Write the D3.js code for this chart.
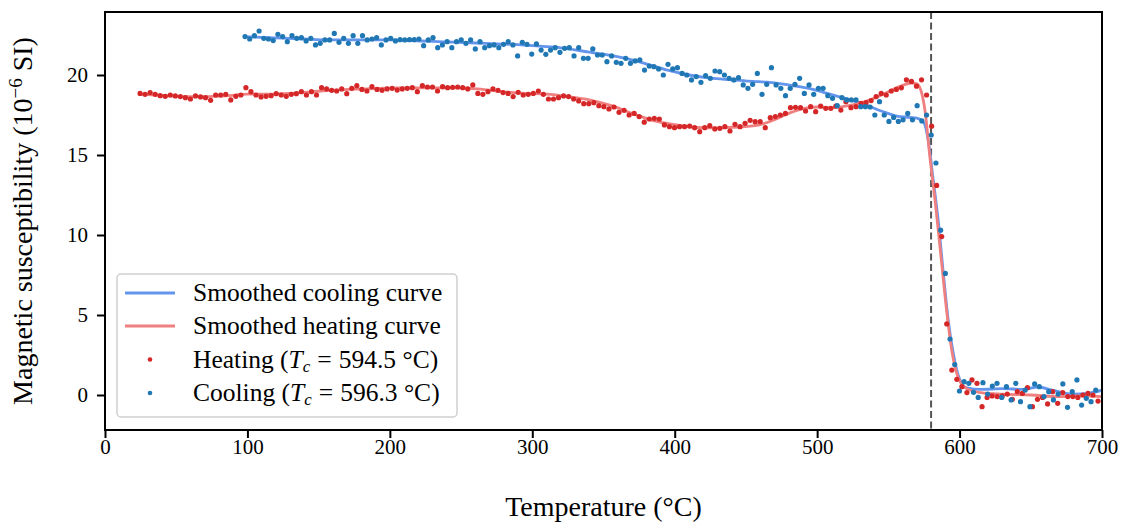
<!DOCTYPE html>
<html><head><meta charset="utf-8">
<script src="https://cdn.jsdelivr.net/npm/d3@7"></script>
<style>body{margin:0;background:#fff}</style>
</head><body><svg id="c" width="1127" height="525"></svg>
<script>
// ---------- data ----------
const heatStart = 24.6, heatStep = 3.54;   // temperature sampling of heating run (°C)
const heatValues = [
18.85,18.79,18.90,18.79,18.71,18.67,18.75,18.69,18.65,18.58,
18.50,18.69,18.63,18.58,18.42,18.75,18.75,18.79,18.44,18.67,
18.75,19.21,18.96,18.75,18.63,18.67,18.71,18.83,18.75,18.67,
18.79,18.83,18.96,18.75,18.96,18.75,19.21,19.13,19.04,19.00,
19.13,18.83,19.17,19.33,19.10,19.00,19.27,19.10,19.04,19.13,
19.17,19.06,19.13,19.17,19.21,18.96,19.33,19.25,19.25,19.00,
19.27,19.21,19.23,19.25,19.21,19.13,19.38,18.85,18.79,18.96,
19.13,19.04,18.90,18.85,18.65,18.92,18.75,18.79,18.85,19.00,
18.79,18.50,18.50,18.58,18.69,18.65,18.50,18.38,18.21,18.21,
18.27,18.08,18.02,17.88,18.00,17.67,17.79,17.50,17.60,17.40,
17.05,17.25,17.29,17.25,16.88,16.77,16.71,16.77,16.77,16.81,
16.71,16.46,16.71,16.83,16.63,16.67,16.77,16.50,16.92,16.77,
16.98,17.17,17.08,17.08,16.71,17.33,17.40,17.50,17.60,17.96,
17.98,17.96,17.75,18.02,17.71,18.06,17.92,17.92,18.06,17.81,
18.33,17.96,18.02,18.23,18.27,18.40,18.65,18.85,18.75,19.00,
19.10,19.20,19.70,19.60,19.30,19.70,18.75,16.80,13.10,9.90,
4.44,1.56,0.98,0.52,0.15,0.94,0.73,-0.73,-0.15,-0.06,
-0.10,-0.06,0.06,-0.27,0.21,0.10,0.46,-0.73,-0.27,-0.15,
-0.56,0.21,-0.52,0.15,-0.10,-0.10,-0.15,0.00,0.10,0.00,-0.38
];
const coolStart = 98.3, coolStep = 3.3;    // temperature sampling of cooling run (°C)
const coolValues = [
22.40,22.25,22.46,22.75,22.29,22.25,22.15,22.54,22.40,22.08,
22.46,22.29,22.33,22.13,22.29,21.88,21.98,22.19,22.19,22.60,
22.04,22.29,21.98,22.46,21.98,22.46,22.19,22.25,22.33,21.88,
22.19,22.29,22.13,22.21,22.19,22.21,22.21,22.25,21.83,22.19,
22.33,21.71,21.88,22.08,21.71,22.08,22.19,21.98,22.19,21.63,
22.08,21.71,21.83,21.88,21.71,21.92,22.08,21.88,21.19,22.04,
21.92,21.31,21.94,21.56,21.29,21.56,21.71,21.42,21.67,21.71,
21.19,21.71,21.04,21.04,21.63,21.25,21.25,20.83,21.19,20.79,
20.73,21.04,20.73,20.88,20.94,20.31,20.56,20.52,20.38,20.00,
20.67,20.38,20.46,20.10,20.00,19.69,19.90,19.54,19.96,19.79,
20.25,20.21,20.00,19.79,19.69,19.83,19.38,19.17,19.42,20.10,
18.79,19.42,20.46,19.38,19.17,18.71,19.17,19.42,19.79,18.85,
19.38,18.79,19.17,19.17,18.71,18.54,18.08,18.58,18.44,18.44,
18.44,18.02,18.02,18.00,17.50,18.33,17.50,17.10,17.35,17.10,
17.20,17.60,17.20,18.08,17.13,17.50,16.25,14.50,10.30,7.60,
3.50,1.90,0.25,0.83,0.73,0.17,-0.15,0.77,0.06,0.56,
0.73,-0.15,0.52,-0.31,0.73,-0.42,0.31,-0.73,0.69,0.52,
-0.10,0.21,-0.31,0.06,0.69,-0.77,0.21,0.94,-0.63,-0.21,
-0.42,0.31
];
const smoothCoolT = [98,110,125,140,155,170,185,200,215,230,245,260,275,290,305,320,335,350,365,380,395,410,425,440,455,465,475,485,495,505,515,525,535,545,555,565,570,575,578,581,585,588.6,592,595.6,600,605,615,630,645,655,665,680,690,700];
const smoothCoolV = [22.4,22.35,22.3,22.25,22.2,22.2,22.2,22.2,22.15,22.1,22.05,22.0,21.95,21.9,21.8,21.7,21.5,21.3,21.05,20.7,20.3,20.0,19.8,19.7,19.6,19.55,19.45,19.3,19.15,18.9,18.65,18.4,18.1,17.75,17.45,17.35,17.3,17.0,15.9,13.8,10.9,7.6,4.7,2.6,1.0,0.45,0.35,0.4,0.35,0.5,0.3,0.05,0.1,0.3];
const smoothHeatT = [25,40,55,70,85,100,115,130,145,160,175,190,205,220,235,250,265,280,295,310,325,340,355,370,385,400,415,430,445,460,470,480,490,500,510,520,530,540,550,560,566,570,573,576,579,583,587,591,594.5,599,605,615,630,650,670,685,700];
const smoothHeatV = [18.8,18.72,18.65,18.65,18.7,18.8,18.8,18.85,18.95,19.05,19.12,19.15,19.2,19.2,19.2,19.2,19.1,18.95,18.85,18.8,18.65,18.45,18.1,17.6,17.15,16.9,16.72,16.7,16.75,16.9,17.2,17.6,17.9,18.0,17.95,18.05,18.25,18.55,18.95,19.35,19.5,19.45,19.0,17.6,15.0,12.0,8.6,5.2,2.8,1.1,0.4,0.15,0.05,0.0,-0.1,-0.05,-0.1];
const xTicks = [0,100,200,300,400,500,600,700];
const yTicks = [0,5,10,15,20];
const curieMark = 580;
const heatTc = "594.5", coolTc = "596.3";

// ---------- chart ----------
const svg = d3.select('#c');
const L = 105, R = 1102, T = 12, B = 430;
const x = d3.scaleLinear().domain([0,700]).range([L,R]);
const y = d3.scaleLinear().domain([-2.1875,23.9375]).range([B,T]);
const FONT = "'Liberation Serif','Times New Roman',serif";
const cRed = '#d62728', cBlue = '#1f77b4', cSmBlue = '#6495ED', cSmRed = '#F08080';

svg.append('defs').append('clipPath').attr('id','clip')
  .append('rect').attr('x',L).attr('y',T).attr('width',R-L).attr('height',B-T);
const plot = svg.append('g').attr('clip-path','url(#clip)');

const heat = heatValues.map((v,i)=>({t:heatStart+heatStep*i, v}));
const cool = coolValues.map((v,i)=>({t:coolStart+coolStep*i, v}));
const smC = smoothCoolT.map((t,i)=>({t, v:smoothCoolV[i]}));
const smH = smoothHeatT.map((t,i)=>({t, v:smoothHeatV[i]}));

plot.append('line').attr('x1',x(curieMark)).attr('x2',x(curieMark)).attr('y1',T).attr('y2',B)
  .attr('stroke','#555').attr('stroke-width',2).attr('stroke-dasharray','7,3.5');

const line = d3.line().x(d=>x(d.t)).y(d=>y(d.v)).curve(d3.curveMonotoneX);
plot.append('path').datum(smC).attr('d',line).attr('fill','none').attr('stroke',cSmBlue).attr('stroke-width',2.8);
plot.append('path').datum(smH).attr('d',line).attr('fill','none').attr('stroke',cSmRed).attr('stroke-width',2.8);

plot.append('g').selectAll('circle').data(heat).join('circle')
  .attr('cx',d=>x(d.t)).attr('cy',d=>y(d.v)).attr('r',2.6).attr('fill',cRed);
plot.append('g').selectAll('circle').data(cool).join('circle')
  .attr('cx',d=>x(d.t)).attr('cy',d=>y(d.v)).attr('r',2.6).attr('fill',cBlue);

// axes
const xa = svg.append('g').attr('transform',`translate(0,${B})`)
  .call(d3.axisBottom(x).tickValues(xTicks).tickFormat(d3.format('d')).tickSize(8).tickPadding(1));
const ya = svg.append('g').attr('transform',`translate(${L},0)`)
  .call(d3.axisLeft(y).tickValues(yTicks).tickFormat(d3.format('d')).tickSize(8).tickPadding(9));
[xa,ya].forEach(a=>{
  a.select('.domain').remove();
  a.selectAll('line').attr('stroke','#000').attr('stroke-width',2);
  a.selectAll('text').attr('font-family',FONT).attr('font-size',21).attr('fill','#000');
});
svg.append('rect').attr('x',L).attr('y',T).attr('width',R-L).attr('height',B-T)
  .attr('fill','none').attr('stroke','#000').attr('stroke-width',2);

// axis titles
svg.append('text').attr('x',(L+R)/2).attr('y',516).attr('text-anchor','middle')
  .attr('font-family',FONT).attr('font-size',28).text('Temperature (°C)');
const yt = svg.append('text').attr('transform',`translate(32,${(T+B)/2}) rotate(-90)`)
  .attr('text-anchor','middle').attr('font-family',FONT).attr('font-size',28);
yt.append('tspan').text('Magnetic susceptibility (10');
yt.append('tspan').attr('baseline-shift','super').attr('font-size',19).text('−6');
yt.append('tspan').text(' SI)');

// legend
const lg = svg.append('g');
lg.append('rect').attr('x',117).attr('y',274).attr('width',340).attr('height',143).attr('rx',4)
  .attr('fill','#fff').attr('fill-opacity',0.85).attr('stroke','#cfcfcf').attr('stroke-width',1.5);
const rows = [293,326,359.5,393];
lg.append('line').attr('x1',125).attr('x2',175).attr('y1',rows[0]).attr('y2',rows[0]).attr('stroke',cSmBlue).attr('stroke-width',2.8);
lg.append('line').attr('x1',125).attr('x2',175).attr('y1',rows[1]).attr('y2',rows[1]).attr('stroke',cSmRed).attr('stroke-width',2.8);
lg.append('circle').attr('cx',150).attr('cy',rows[2]).attr('r',2.3).attr('fill',cRed);
lg.append('circle').attr('cx',150).attr('cy',rows[3]).attr('r',2.3).attr('fill',cBlue);
function ltext(i){ return lg.append('text').attr('x',193).attr('y',rows[i]+8).attr('font-family',FONT).attr('font-size',25.5); }
ltext(0).text('Smoothed cooling curve');
ltext(1).text('Smoothed heating curve');
[[2,'Heating',heatTc],[3,'Cooling',coolTc]].forEach(([i,name,tc])=>{
  const t = ltext(i);
  t.append('tspan').text(name+' (');
  t.append('tspan').attr('font-style','italic').text('T');
  t.append('tspan').attr('baseline-shift','-4').attr('font-size',17).attr('font-style','italic').text('c');
  t.append('tspan').attr('dx',7).text('=');
  t.append('tspan').attr('dx',7).text(tc+' °C)');
});
</script></body></html>
